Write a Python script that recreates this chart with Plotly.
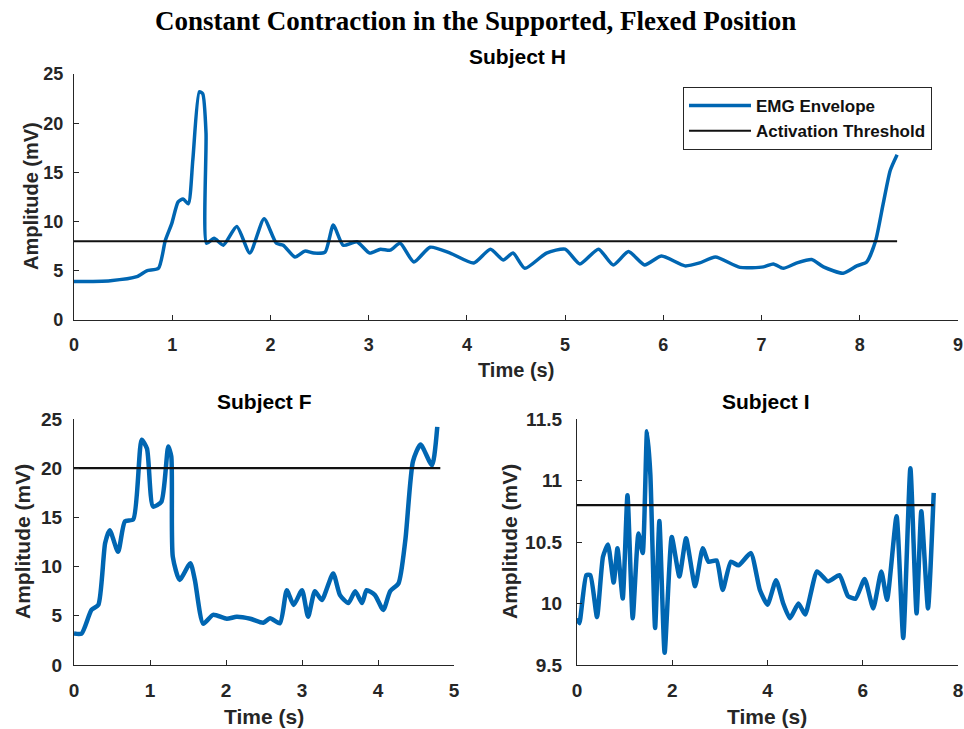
import plotly.graph_objects as go

# ---------------- data ----------------
H_t = [0, 0.37, 0.64, 0.74, 0.86, 0.93, 0.995, 1.06, 1.11, 1.164, 1.21, 1.276, 1.31, 1.344, 1.35,
       1.426, 1.52, 1.657, 1.79, 1.935, 2.06, 2.13, 2.25, 2.35, 2.44, 2.556, 2.64, 2.74, 2.88, 3.01,
       3.12, 3.22, 3.32, 3.46, 3.625, 3.83, 4.07, 4.24, 4.37, 4.47, 4.59, 4.81, 5.0, 5.15, 5.34,
       5.49, 5.645, 5.81, 5.98, 6.22, 6.37, 6.53, 6.78, 7.02, 7.12, 7.22, 7.36, 7.51, 7.63, 7.83,
       7.97, 8.07, 8.16, 8.24, 8.31, 8.38]
H_v = [3.9, 4.0, 4.4, 5.0, 5.25, 8.1, 9.8, 12.0, 12.3, 11.8, 16.3, 23.2, 23.0, 19.0, 7.8,
       8.3, 7.6, 9.5, 6.8, 10.3, 7.8, 7.6, 6.4, 7.0, 6.8, 6.9, 9.65, 7.6, 7.95, 6.8,
       7.2, 7.1, 7.8, 5.9, 7.4, 6.8, 5.8, 7.2, 6.1, 6.8, 5.25, 6.8, 7.2, 5.7, 7.2,
       5.6, 6.95, 5.6, 6.5, 5.5, 5.8, 6.4, 5.35, 5.4, 5.7, 5.25, 5.8, 6.15, 5.4, 4.75,
       5.5, 5.9, 8.0, 11.9, 15.2, 16.8]
H_thr_t = [0, 8.38]
H_thr = [8, 8]

F_t = [0, 0.1, 0.23, 0.32, 0.41, 0.47, 0.58, 0.67, 0.78, 0.89, 0.96, 1.04, 1.15, 1.24, 1.28,
       1.30, 1.39, 1.53, 1.59, 1.70, 1.83, 2.01, 2.14, 2.32, 2.49, 2.58, 2.71, 2.80, 2.89, 3.0,
       3.08, 3.17, 3.26, 3.41, 3.5, 3.61, 3.70, 3.79, 3.85, 3.96, 4.07, 4.16, 4.27, 4.36, 4.46,
       4.56, 4.71, 4.78]
F_v = [3.2, 3.2, 5.6, 6.1, 12.4, 13.7, 11.5, 14.6, 14.8, 22.9, 22.0, 16.1, 16.6, 22.2, 21.2,
       11.0, 8.65, 10.35, 8.65, 4.2, 5.1, 4.7, 4.9, 4.7, 4.3, 4.75, 4.25, 7.6, 6.1, 7.6,
       4.9, 7.5, 6.6, 9.3, 7.1, 6.3, 7.5, 6.3, 7.6, 7.1, 5.6, 7.5, 8.3, 12.7, 20.7,
       22.4, 20.3, 24.2]
F_thr_t = [0, 4.82]
F_thr = [20, 20]

I_t = [0, 0.05, 0.195, 0.28, 0.42, 0.545, 0.65, 0.77, 0.85, 0.96, 1.06, 1.17, 1.29, 1.38, 1.47,
       1.54, 1.64, 1.73, 1.84, 1.99, 2.15, 2.29, 2.48, 2.64, 2.76, 2.93, 3.06, 3.23, 3.39, 3.65,
       3.84, 4.0, 4.18, 4.33, 4.47, 4.65, 4.79, 5.04, 5.27, 5.51, 5.69, 5.85, 6.04, 6.22, 6.39,
       6.51, 6.71, 6.85, 7.0, 7.13, 7.23, 7.37, 7.49]
I_v = [9.88, 9.84, 10.23, 10.23, 9.89, 10.38, 10.48, 10.17, 10.45, 10.04, 10.88, 9.88, 10.57, 10.41, 11.40,
       11.05, 9.80, 10.67, 9.60, 10.54, 10.22, 10.53, 10.14, 10.45, 10.34, 10.35, 10.11, 10.34, 10.31, 10.41,
       10.11, 9.99, 10.19, 10.0, 9.88, 10.0, 9.91, 10.26, 10.18, 10.23, 10.06, 10.04, 10.2, 9.96, 10.26,
       10.03, 10.71, 9.72, 11.10, 9.92, 10.75, 9.96, 10.90]
I_thr_t = [0, 7.49]
I_thr = [10.8, 10.8]

H_xticks = [0, 1, 2, 3, 4, 5, 6, 7, 8, 9]
F_xticks = [0, 1, 2, 3, 4, 5]
I_xticks = [0, 2, 4, 6, 8]
HF_yticks = [0, 5, 10, 15, 20, 25]
I_yticks = [9.5, 10, 10.5, 11, 11.5]

MAIN_TITLE = "Constant Contraction in the Supported, Flexed Position"
SUBTITLES = ["Subject H", "Subject F", "Subject I"]
XLABEL = "Time (s)"
YLABEL = "Amplitude (mV)"
LEGEND_NAMES = ["EMG Envelope", "Activation Threshold"]

# ---------------- styling ----------------
W, H = 964, 729
BLUE = "#0066b2"
AX = "#262626"
SANS = "Liberation Sans, Arial, sans-serif"
SERIF = "Liberation Serif, Times New Roman, serif"


def px(x):
    return x / W


def py(y):
    return 1 - y / H


fig = go.Figure()

# top (Subject H)
fig.add_trace(go.Scatter(x=H_t, y=H_v, mode="lines", name=LEGEND_NAMES[0],
                         line=dict(color=BLUE, width=3.5, shape="spline", smoothing=0.6),
                         xaxis="x", yaxis="y", showlegend=True))
fig.add_trace(go.Scatter(x=H_thr_t, y=H_thr, mode="lines", name=LEGEND_NAMES[1],
                         line=dict(color="#111111", width=2),
                         xaxis="x", yaxis="y", showlegend=True))
# bottom-left (Subject F)
fig.add_trace(go.Scatter(x=F_t, y=F_v, mode="lines", name=LEGEND_NAMES[0],
                         line=dict(color=BLUE, width=4.5, shape="spline", smoothing=0.6),
                         xaxis="x2", yaxis="y2", showlegend=False))
fig.add_trace(go.Scatter(x=F_thr_t, y=F_thr, mode="lines", name=LEGEND_NAMES[1],
                         line=dict(color="#111111", width=2.2),
                         xaxis="x2", yaxis="y2", showlegend=False))
# bottom-right (Subject I)
fig.add_trace(go.Scatter(x=I_t, y=I_v, mode="lines", name=LEGEND_NAMES[0],
                         line=dict(color=BLUE, width=4.5, shape="spline", smoothing=0.5),
                         xaxis="x3", yaxis="y3", showlegend=False))
fig.add_trace(go.Scatter(x=I_thr_t, y=I_thr, mode="lines", name=LEGEND_NAMES[1],
                         line=dict(color="#111111", width=2.2),
                         xaxis="x3", yaxis="y3", showlegend=False))


def ax(domain, rng, ticks, anchor, size, standoff):
    return dict(domain=domain, range=rng, tickvals=ticks, ticktext=[f"{t:g}" for t in ticks],
                anchor=anchor, showline=True, linecolor=AX, linewidth=1.3, mirror=False,
                ticks="inside", ticklen=5, tickwidth=1.3, tickcolor=AX, showgrid=False,
                zeroline=False, automargin=False, ticklabelstandoff=standoff,
                tickfont=dict(family=SANS, size=size, color=AX, weight="bold"))


top_x = [px(74), px(958)]
top_y = [py(320), py(74)]
bl_x = [px(74), px(454)]
br_x = [px(577), px(958)]
bot_y = [py(665), py(419)]

fig.update_layout(
    width=W, height=H,
    margin=dict(l=0, r=0, t=0, b=0),
    paper_bgcolor="white", plot_bgcolor="white",
    xaxis=ax(top_x, [0, 9], H_xticks, "y", 18, 8),
    yaxis=ax(top_y, [0, 25], HF_yticks, "x", 18, 6),
    xaxis2=ax(bl_x, [0, 5], F_xticks, "y2", 19, 8),
    yaxis2=ax(bot_y, [0, 25], HF_yticks, "x2", 19, 7),
    xaxis3=ax(br_x, [0, 8], I_xticks, "y3", 19, 8),
    yaxis3=ax(bot_y, [9.5, 11.5], I_yticks, "x3", 19, 10),
    legend=dict(x=px(683), y=py(87), xanchor="left", yanchor="top",
                bgcolor="white", bordercolor=AX, borderwidth=1,
                font=dict(family=SANS, size=17, color="#111111", weight="bold"),
                itemwidth=62, tracegroupgap=0),
    showlegend=True,
)


def label(text, x, y, size, color=AX, angle=0, family=SANS, bold=True):
    font = dict(family=family, size=size, color=color)
    if bold:
        font["weight"] = "bold"
    return dict(text=text, x=px(x), y=py(y), xref="paper", yref="paper",
                xanchor="center", yanchor="middle", textangle=angle,
                showarrow=False, font=font)


ann = [
    label(MAIN_TITLE, 475, 21, 27, color="black", family=SERIF),
    label(SUBTITLES[0], 517, 56, 21, color="black"),
    label(SUBTITLES[1], 264, 401, 21, color="black"),
    label(SUBTITLES[2], 766, 401, 21, color="black"),
    label(XLABEL, 516, 370, 20),
    label(XLABEL, 264, 716, 21),
    label(XLABEL, 767, 716, 21),
    label(YLABEL, 31, 196, 20, angle=-90),
    label(YLABEL, 22, 542, 21, angle=-90),
    label(YLABEL, 509, 542, 21, angle=-90),
]
fig.update_layout(annotations=ann)

fig.write_html("out.html")
